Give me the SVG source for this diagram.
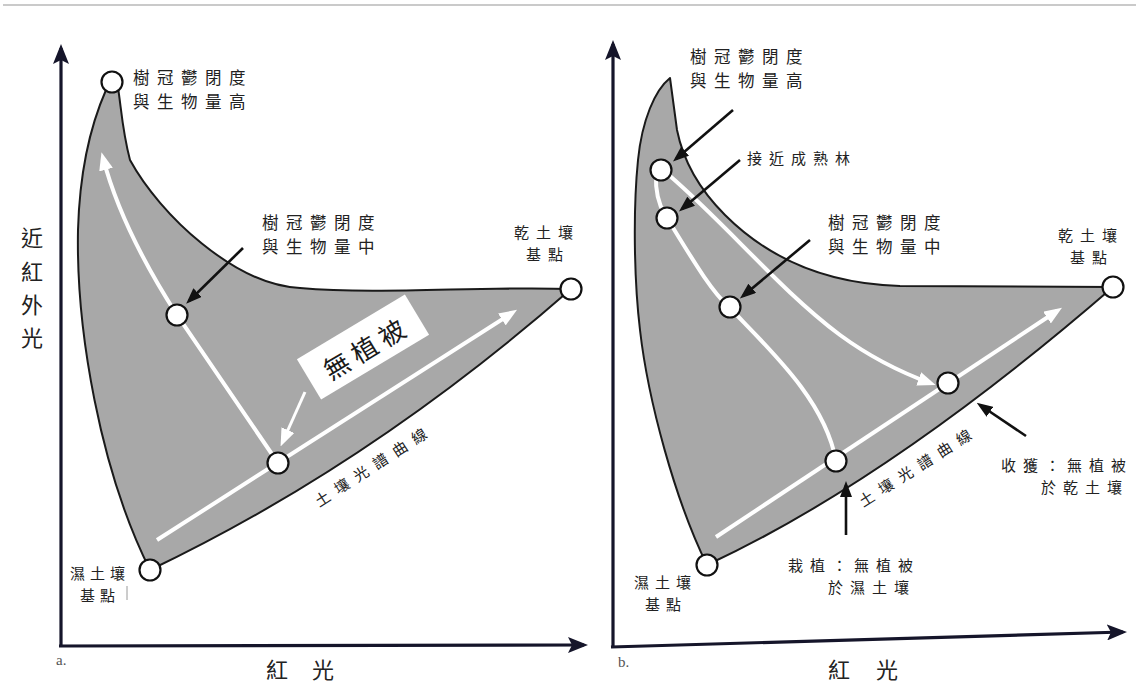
<svg xmlns="http://www.w3.org/2000/svg" width="1136" height="688" viewBox="0 0 1136 688">
<defs>
<style>
.bg{fill:#ffffff}
.region{fill:#a8a8a8;stroke:#1a1a1a;stroke-width:2;stroke-linejoin:round}
.axis{fill:none;stroke:#15152a;stroke-width:3.2}
.wline{fill:none;stroke:#ffffff;stroke-width:4;stroke-linecap:butt}
.bline{fill:none;stroke:#111111;stroke-width:2.6}
.pt{fill:#ffffff;stroke:#111111;stroke-width:2.2}
.lbl{font-family:"Noto Sans CJK TC","Noto Sans CJK SC",sans-serif;font-size:16.5px;fill:#222222;letter-spacing:7.5px;dominant-baseline:central}
.sm{font-size:15px;letter-spacing:7px}
.ax{font-family:"Noto Sans CJK TC","Noto Sans CJK SC",sans-serif;font-size:22px;fill:#222222;dominant-baseline:central}
.big{font-family:"Noto Sans CJK TC","Noto Sans CJK SC",sans-serif;font-size:26px;fill:#1a1a1a;letter-spacing:6px;dominant-baseline:central}
.tag{font-family:"Liberation Serif",serif;font-size:15px;fill:#555555}
</style>
<marker id="axArrow" viewBox="0 0 20 16" markerWidth="20" markerHeight="16" refX="16" refY="8" orient="auto" markerUnits="userSpaceOnUse">
<path d="M0,0 L20,8 L0,16 L4,8 z" fill="#15152a"/>
</marker>
<marker id="bArrow" viewBox="0 0 16 12" markerWidth="16" markerHeight="12" refX="12" refY="6" orient="auto" markerUnits="userSpaceOnUse">
<path d="M0,0 L16,6 L0,12 z" fill="#111111"/>
</marker>
<marker id="wArrow" viewBox="0 0 18 14" markerWidth="18" markerHeight="14" refX="12" refY="7" orient="auto" markerUnits="userSpaceOnUse">
<path d="M0,0 L18,7 L0,14 z" fill="#ffffff"/>
</marker>
</defs>
<rect class="bg" x="0" y="0" width="1136" height="688"/>
<line x1="3" y1="5" x2="1136" y2="5" stroke="#b8b8b8" stroke-width="1.5"/>

<!-- Panel a -->
<g id="a-axes">
<line class="axis" x1="61" y1="647" x2="61" y2="48" marker-end="url(#axArrow)"/>
<line class="axis" x1="59" y1="646" x2="584" y2="645" marker-end="url(#axArrow)"/>
<text class="tag" x="56" y="665">a.</text>
<text class="ax" x="266" y="668">紅<tspan x="312">光</tspan></text>
<text class="ax" x="21" y="236">近<tspan x="21" y="270">紅</tspan><tspan x="21" y="303">外</tspan><tspan x="21" y="336">光</tspan></text>
</g>
<path id="a-region" class="region" d="M112,78 L106,90 C95,115 80,160 78,230 C76,330 100,470 150,570 Q370,465 571,289 C480,286 380,295 300,288 C235,285 160,215 130,160 C122,130 121,105 118,88 Z"/>

<g id="a-connectors">
<path class="wline" d="M278,463 L177,315 C150,273 118,215 103,158" marker-end="url(#wArrow)"/>
<path class="wline" d="M157,540 L512,313" marker-end="url(#wArrow)"/>
<path class="wline" style="stroke-width:3" d="M305,392 L283,441" marker-end="url(#wArrow)"/>
<path class="bline" d="M243,248 L189,301" marker-end="url(#bArrow)"/>
</g>

<g id="a-bare" transform="translate(363,347) rotate(-31)">
<rect x="-63" y="-23.5" width="126" height="47" fill="#ffffff"/>
<text class="big" x="-45" y="1">無植被</text>
</g>
<g id="a-soilcurve" transform="translate(322,498) rotate(-33)">
<text class="lbl sm" x="-7.5" y="0" style="letter-spacing:8px">土壤光譜曲線</text>
</g>

<g id="a-high">
<circle class="pt" cx="112" cy="82" r="10.5"/>
<text class="lbl" x="133" y="77">樹冠鬱閉度<tspan x="133" y="101">與生物量高</tspan></text>
</g>
<g id="a-mid">
<circle class="pt" cx="177" cy="315" r="10.5"/>
<text class="lbl" x="262" y="222">樹冠鬱閉度<tspan x="262" y="246">與生物量中</tspan></text>
</g>
<g id="a-soil">
<circle class="pt" cx="278" cy="463" r="10.5"/>
</g>
<g id="a-dry">
<circle class="pt" cx="571" cy="289" r="10.5"/>
<text class="lbl sm" x="514" y="231">乾土壤<tspan x="526" y="253">基點</tspan></text>
</g>
<g id="a-wet">
<circle class="pt" cx="150" cy="570" r="10.5"/>
<text class="lbl sm" x="70" y="572" style="letter-spacing:5px">濕土壤<tspan x="80" y="594">基點</tspan></text>
<line x1="127" y1="586" x2="127" y2="600" stroke="#9a9a9a" stroke-width="1"/>
</g>

<!-- Panel b -->
<g id="b-axes">
<line class="axis" x1="613" y1="648" x2="613" y2="44" marker-end="url(#axArrow)"/>
<line class="axis" x1="611" y1="647" x2="1123" y2="632" marker-end="url(#axArrow)"/>
<text class="tag" x="618" y="667">b.</text>
<text class="ax" x="828" y="668">紅<tspan x="876">光</tspan></text>
</g>
<path id="b-region" class="region" d="M670,78 C655,90 642,120 638,160 C633,210 634,280 640,330 C648,400 675,500 707,565 Q890,480 1113,287 L900,286 C830,284 770,260 725,215 C700,190 683,160 677,130 Z"/>

<g id="b-connectors">
<path class="wline" d="M670,176 C730,228 780,290 840,335 C870,357 900,372 930,383" marker-end="url(#wArrow)"/>
<path class="wline" d="M656,175 Q655,198 665,215"/>
<path class="wline" d="M667,218 C690,255 710,290 729,307 C770,350 825,400 836,461"/>
<path class="wline" d="M716,537 L1057,311" marker-end="url(#wArrow)"/>
<path class="bline" d="M733,110 L676,159" marker-end="url(#bArrow)"/>
<path class="bline" d="M740,160 L682,209" marker-end="url(#bArrow)"/>
<path class="bline" d="M810,240 L743,296" marker-end="url(#bArrow)"/>
<path class="bline" d="M1026,436 L980,405" marker-end="url(#bArrow)"/>
<path class="bline" d="M846,535 L846,485" marker-end="url(#bArrow)"/>
</g>

<g id="b-soilcurve" transform="translate(866,498) rotate(-32.3)">
<text class="lbl sm" x="-7.5" y="0" style="letter-spacing:8px">土壤光譜曲線</text>
</g>

<g id="b-high">
<circle class="pt" cx="661" cy="170" r="10.5"/>
<text class="lbl" x="690" y="56">樹冠鬱閉度<tspan x="690" y="80">與生物量高</tspan></text>
</g>
<g id="b-mature">
<circle class="pt" cx="667" cy="218" r="10.5"/>
<text class="lbl sm" x="747" y="157">接近成熟林</text>
</g>
<g id="b-mid">
<circle class="pt" cx="730" cy="307" r="10.5"/>
<text class="lbl" x="828" y="222">樹冠鬱閉度<tspan x="828" y="246">與生物量中</tspan></text>
</g>
<g id="b-harvest">
<circle class="pt" cx="948" cy="383" r="10.5"/>
<text class="lbl sm" x="1001" y="464">收獲：無植被<tspan x="1041" y="486">於乾土壤</tspan></text>
</g>
<g id="b-plant">
<circle class="pt" cx="836" cy="461" r="10.5"/>
<text class="lbl sm" x="788" y="564">栽植：無植被<tspan x="828" y="586">於濕土壤</tspan></text>
</g>
<g id="b-dry">
<circle class="pt" cx="1113" cy="287" r="10.5"/>
<text class="lbl sm" x="1058" y="234">乾土壤<tspan x="1070" y="256">基點</tspan></text>
</g>
<g id="b-wet">
<circle class="pt" cx="707" cy="565" r="10.5"/>
<text class="lbl sm" x="634" y="581" style="letter-spacing:6px">濕土壤<tspan x="645" y="603">基點</tspan></text>
</g>
</svg>
